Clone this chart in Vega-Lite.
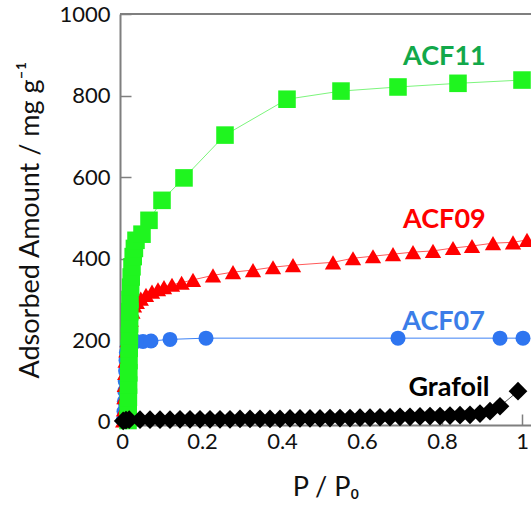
{
  "$schema": "https://vega.github.io/schema/vega-lite/v6.json",
  "width": 411,
  "height": 411,
  "autosize": {"type": "none"},
  "padding": {"left": 120, "top": 14, "right": 0, "bottom": 84},
  "config": {
    "view": {"stroke": null},
    "font": "Lato",
    "axis": {
      "grid": false,
      "domainColor": "#7f7f7f",
      "domainWidth": 2,
      "tickColor": "#7f7f7f",
      "tickWidth": 1.5,
      "tickSize": -11,
      "labelFont": "Lato",
      "labelFontSize": 22,
      "labelColor": "#111111",
      "titleFont": "Lato",
      "titleFontSize": 27,
      "titleFontWeight": "normal",
      "titleColor": "#111111"
    }
  },
  "datasets": {
    "iso": [
      {"series": "ACF07", "x": 0.003, "y": 3}, {"series": "ACF07", "x": 0.005, "y": 25}, {"series": "ACF07", "x": 0.006, "y": 50},
      {"series": "ACF07", "x": 0.007, "y": 75}, {"series": "ACF07", "x": 0.008, "y": 100}, {"series": "ACF07", "x": 0.009, "y": 125},
      {"series": "ACF07", "x": 0.01, "y": 150}, {"series": "ACF07", "x": 0.011, "y": 170}, {"series": "ACF07", "x": 0.013, "y": 185},
      {"series": "ACF07", "x": 0.016, "y": 192}, {"series": "ACF07", "x": 0.022, "y": 195}, {"series": "ACF07", "x": 0.035, "y": 197},
      {"series": "ACF07", "x": 0.0525, "y": 197}, {"series": "ACF07", "x": 0.0725, "y": 198}, {"series": "ACF07", "x": 0.12, "y": 202},
      {"series": "ACF07", "x": 0.21, "y": 205}, {"series": "ACF07", "x": 0.69, "y": 205}, {"series": "ACF07", "x": 0.945, "y": 205},
      {"series": "ACF07", "x": 1.0025, "y": 205},
      {"series": "ACF09", "x": 0.003, "y": 3}, {"series": "ACF09", "x": 0.005, "y": 30}, {"series": "ACF09", "x": 0.006, "y": 60},
      {"series": "ACF09", "x": 0.007, "y": 90}, {"series": "ACF09", "x": 0.008, "y": 120}, {"series": "ACF09", "x": 0.009, "y": 150},
      {"series": "ACF09", "x": 0.011, "y": 175}, {"series": "ACF09", "x": 0.014, "y": 200}, {"series": "ACF09", "x": 0.018, "y": 225},
      {"series": "ACF09", "x": 0.022, "y": 250}, {"series": "ACF09", "x": 0.026, "y": 270}, {"series": "ACF09", "x": 0.03, "y": 285},
      {"series": "ACF09", "x": 0.037, "y": 294}, {"series": "ACF09", "x": 0.047, "y": 302}, {"series": "ACF09", "x": 0.06, "y": 311},
      {"series": "ACF09", "x": 0.075, "y": 319}, {"series": "ACF09", "x": 0.09, "y": 325}, {"series": "ACF09", "x": 0.105, "y": 330},
      {"series": "ACF09", "x": 0.125, "y": 336}, {"series": "ACF09", "x": 0.149, "y": 341}, {"series": "ACF09", "x": 0.1775, "y": 348},
      {"series": "ACF09", "x": 0.2275, "y": 359}, {"series": "ACF09", "x": 0.2775, "y": 367}, {"series": "ACF09", "x": 0.3275, "y": 372},
      {"series": "ACF09", "x": 0.3775, "y": 379}, {"series": "ACF09", "x": 0.4275, "y": 384}, {"series": "ACF09", "x": 0.5275, "y": 391},
      {"series": "ACF09", "x": 0.5775, "y": 401}, {"series": "ACF09", "x": 0.6275, "y": 406}, {"series": "ACF09", "x": 0.6775, "y": 411},
      {"series": "ACF09", "x": 0.7275, "y": 416}, {"series": "ACF09", "x": 0.7775, "y": 419}, {"series": "ACF09", "x": 0.8275, "y": 426},
      {"series": "ACF09", "x": 0.875, "y": 431}, {"series": "ACF09", "x": 0.9275, "y": 438}, {"series": "ACF09", "x": 0.9775, "y": 440},
      {"series": "ACF09", "x": 1.0125, "y": 446},
      {"series": "ACF11", "x": 0.015, "y": 3}, {"series": "ACF11", "x": 0.0155, "y": 30}, {"series": "ACF11", "x": 0.016, "y": 60},
      {"series": "ACF11", "x": 0.0165, "y": 90}, {"series": "ACF11", "x": 0.017, "y": 120}, {"series": "ACF11", "x": 0.0175, "y": 150},
      {"series": "ACF11", "x": 0.018, "y": 180}, {"series": "ACF11", "x": 0.0185, "y": 210}, {"series": "ACF11", "x": 0.019, "y": 240},
      {"series": "ACF11", "x": 0.0195, "y": 270}, {"series": "ACF11", "x": 0.02, "y": 300}, {"series": "ACF11", "x": 0.0215, "y": 330},
      {"series": "ACF11", "x": 0.023, "y": 355}, {"series": "ACF11", "x": 0.025, "y": 380}, {"series": "ACF11", "x": 0.028, "y": 405},
      {"series": "ACF11", "x": 0.031, "y": 425}, {"series": "ACF11", "x": 0.035, "y": 445}, {"series": "ACF11", "x": 0.05, "y": 460},
      {"series": "ACF11", "x": 0.0675, "y": 494}, {"series": "ACF11", "x": 0.1, "y": 543}, {"series": "ACF11", "x": 0.155, "y": 598},
      {"series": "ACF11", "x": 0.2575, "y": 703}, {"series": "ACF11", "x": 0.4125, "y": 791}, {"series": "ACF11", "x": 0.5475, "y": 811},
      {"series": "ACF11", "x": 0.69, "y": 821}, {"series": "ACF11", "x": 0.84, "y": 830}, {"series": "ACF11", "x": 1.0, "y": 838},
      {"series": "Grafoil", "x": 0.003, "y": 2}, {"series": "Grafoil", "x": 0.01, "y": 4}, {"series": "Grafoil", "x": 0.018, "y": 5},
      {"series": "Grafoil", "x": 0.045, "y": 5}, {"series": "Grafoil", "x": 0.07, "y": 5}, {"series": "Grafoil", "x": 0.095, "y": 5},
      {"series": "Grafoil", "x": 0.12, "y": 5}, {"series": "Grafoil", "x": 0.145, "y": 6}, {"series": "Grafoil", "x": 0.17, "y": 6},
      {"series": "Grafoil", "x": 0.195, "y": 6}, {"series": "Grafoil", "x": 0.22, "y": 6}, {"series": "Grafoil", "x": 0.245, "y": 6},
      {"series": "Grafoil", "x": 0.27, "y": 6}, {"series": "Grafoil", "x": 0.295, "y": 7}, {"series": "Grafoil", "x": 0.32, "y": 7},
      {"series": "Grafoil", "x": 0.345, "y": 7}, {"series": "Grafoil", "x": 0.37, "y": 7}, {"series": "Grafoil", "x": 0.395, "y": 7},
      {"series": "Grafoil", "x": 0.42, "y": 8}, {"series": "Grafoil", "x": 0.445, "y": 8}, {"series": "Grafoil", "x": 0.47, "y": 8},
      {"series": "Grafoil", "x": 0.495, "y": 8}, {"series": "Grafoil", "x": 0.52, "y": 9}, {"series": "Grafoil", "x": 0.545, "y": 9},
      {"series": "Grafoil", "x": 0.57, "y": 9}, {"series": "Grafoil", "x": 0.595, "y": 10}, {"series": "Grafoil", "x": 0.62, "y": 10},
      {"series": "Grafoil", "x": 0.645, "y": 11}, {"series": "Grafoil", "x": 0.67, "y": 11}, {"series": "Grafoil", "x": 0.695, "y": 12},
      {"series": "Grafoil", "x": 0.72, "y": 12}, {"series": "Grafoil", "x": 0.745, "y": 13}, {"series": "Grafoil", "x": 0.77, "y": 14},
      {"series": "Grafoil", "x": 0.795, "y": 14}, {"series": "Grafoil", "x": 0.82, "y": 15}, {"series": "Grafoil", "x": 0.845, "y": 16},
      {"series": "Grafoil", "x": 0.87, "y": 17}, {"series": "Grafoil", "x": 0.895, "y": 20}, {"series": "Grafoil", "x": 0.92, "y": 26},
      {"series": "Grafoil", "x": 0.945, "y": 38}, {"series": "Grafoil", "x": 0.99, "y": 75}
    ],
    "labels": [
      {"series": "ACF11", "x": 0.806, "y": 895},
      {"series": "ACF09", "x": 0.806, "y": 495},
      {"series": "ACF07", "x": 0.804, "y": 245},
      {"series": "Grafoil", "x": 0.8175, "y": 83}
    ],
    "frame": [{"y": 1000}]
  },
  "layer": [
    {
      "data": {"name": "iso"},
      "mark": {"type": "line", "strokeWidth": 1},
      "encoding": {
        "x": {"field": "x", "type": "quantitative", "scale": {"domain": [-0.005, 1.0225], "nice": false, "zero": false},
              "axis": {"title": "P / P₀", "values": [0, 0.2, 0.4, 0.6, 0.8, 1], "format": "~g", "labelPadding": 17, "titlePadding": 22}},
        "y": {"field": "y", "type": "quantitative", "scale": {"domain": [-8, 1000], "nice": false, "zero": false},
              "axis": {"title": "Adsorbed Amount / mg g⁻¹", "values": [0, 200, 400, 600, 800, 1000], "format": "d", "labelPadding": 21, "titlePadding": 14}},
        "stroke": {"field": "series", "type": "nominal", "legend": null,
                   "scale": {"domain": ["ACF07", "ACF09", "ACF11", "Grafoil"], "range": ["#3d82f5", "#ff5a5a", "#7cf57c", "#555555"]}},
        "detail": {"field": "series"}
      }
    },
    {
      "data": {"name": "iso"},
      "mark": {"type": "point", "filled": true, "opacity": 1, "strokeWidth": 0},
      "encoding": {
        "x": {"field": "x", "type": "quantitative"},
        "y": {"field": "y", "type": "quantitative"},
        "fill": {"field": "series", "type": "nominal", "legend": null,
                 "scale": {"domain": ["ACF07", "ACF09", "ACF11", "Grafoil"], "range": ["#2e75f0", "#ff0000", "#1ff51f", "#000000"]}},
        "shape": {"field": "series", "type": "nominal", "legend": null,
                  "scale": {"domain": ["ACF07", "ACF09", "ACF11", "Grafoil"], "range": ["circle", "triangle-up", "square", "diamond"]}},
        "size": {"field": "series", "type": "nominal", "legend": null,
                 "scale": {"domain": ["ACF07", "ACF09", "ACF11", "Grafoil"], "range": [225, 350, 177, 150]}}
      }
    },
    {
      "data": {"name": "frame"},
      "mark": {"type": "rule", "color": "#7f7f7f", "strokeWidth": 2},
      "encoding": {"y": {"field": "y", "type": "quantitative"}}
    },
    {
      "data": {"name": "labels"},
      "mark": {"type": "text", "font": "Lato", "fontSize": 27, "fontWeight": "bold", "align": "center", "baseline": "middle"},
      "encoding": {
        "x": {"field": "x", "type": "quantitative"},
        "y": {"field": "y", "type": "quantitative"},
        "text": {"field": "series"},
        "color": {"field": "series", "type": "nominal", "legend": null,
                  "scale": {"domain": ["ACF07", "ACF09", "ACF11", "Grafoil"], "range": ["#3b7de8", "#ff0000", "#12a84a", "#000000"]}}
      }
    }
  ]
}
